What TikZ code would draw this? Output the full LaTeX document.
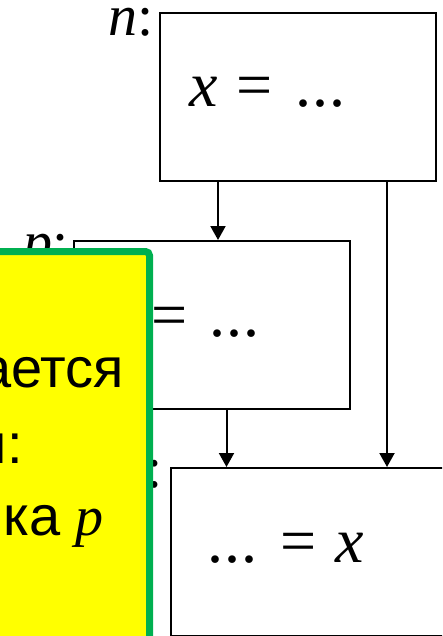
\documentclass[tikz,border=0pt]{standalone}
\usepackage{fontspec}
\setmainfont{Liberation Serif}
\newfontfamily\notefont{Liberation Sans}
\usetikzlibrary{arrows.meta}
\definecolor{noteyellow}{RGB}{255,255,0}
\definecolor{notegreen}{RGB}{0,176,80}
\newcommand{\mvar}[1]{{\rmfamily\itshape #1}}

\begin{document}
\begin{tikzpicture}[x=1pt,y=-1pt,
    cell/.style={draw, line width=2pt, minimum width=276pt, minimum height=168pt, inner sep=0pt},
    lbl/.style={inner sep=0pt, anchor=base east, font=\fontsize{58}{60}\selectfont},
    code/.style={inner sep=0pt, anchor=base west, font=\fontsize{64}{70}\selectfont},
    arr/.style={line width=2pt, -{Triangle[width=15pt,length=14pt]}},
    note/.style={draw=notegreen, fill=noteyellow, line width=7pt, rounded corners=4pt,
                 minimum width=169.5pt, minimum height=408.5pt, inner sep=0pt},
    notetext/.style={inner sep=0pt, anchor=base east, font=\notefont\fontsize{56}{60}\selectfont}]
    \useasboundingbox (0,0) rectangle (442,636);
    \clip (0,0) rectangle (442,636);

    % list cells
    \node[cell] (nbox) at (298,97) {};
    \node[cell] (pbox) at (211.5,325) {};
    \node[cell] (qbox) at (308.5,552) {};

    \node[lbl] (nlbl) at ([shift={(-5,24)}]nbox.north west) {\mvar{n}:};
    \node[lbl] (plbl) at ([shift={(-4,21)}]pbox.north west) {\mvar{p}:};
    \node[lbl] (qlbl) at ([shift={(-7,20)}]qbox.north west) {:};

    \node[code] (ntext) at ([shift={(30,95)}]nbox.north west) {\mvar{x}\hspace{0.3em}=\hspace{0.35em}.\hspace{1pt}.\hspace{1pt}.};
    \node[code] (ptext) at ([shift={(31,96)}]pbox.north west) {\mvar{x}\hspace{0.3em}=\hspace{0.35em}.\hspace{1pt}.\hspace{1pt}.};
    \node[code] (qtext) at ([shift={(38,95)}]qbox.north west) {.\hspace{1pt}.\hspace{1pt}.\hspace{0.35em}=\hspace{0.3em}\mvar{x}};

    % links
    \draw[arr] ([xshift=59pt]nbox.south west) -- ([xshift=59pt]nbox.south west |- pbox.north);
    \draw[arr] ([xshift=-50pt]nbox.south east) -- ([xshift=-50pt]nbox.south east |- qbox.north);
    \draw[arr] ([xshift=154pt]pbox.south west) -- ([xshift=154pt]pbox.south west |- qbox.north);

    % note on top
    \node[note] (note) at (64.75,455.75) {};
    \node[notetext] (line1) at (124,387) {ается};
    \node[notetext] (line2) at (23,463) {и:};
    \node[notetext] (line3) at (104,535) {ика \mvar{p}};
\end{tikzpicture}
\end{document}
